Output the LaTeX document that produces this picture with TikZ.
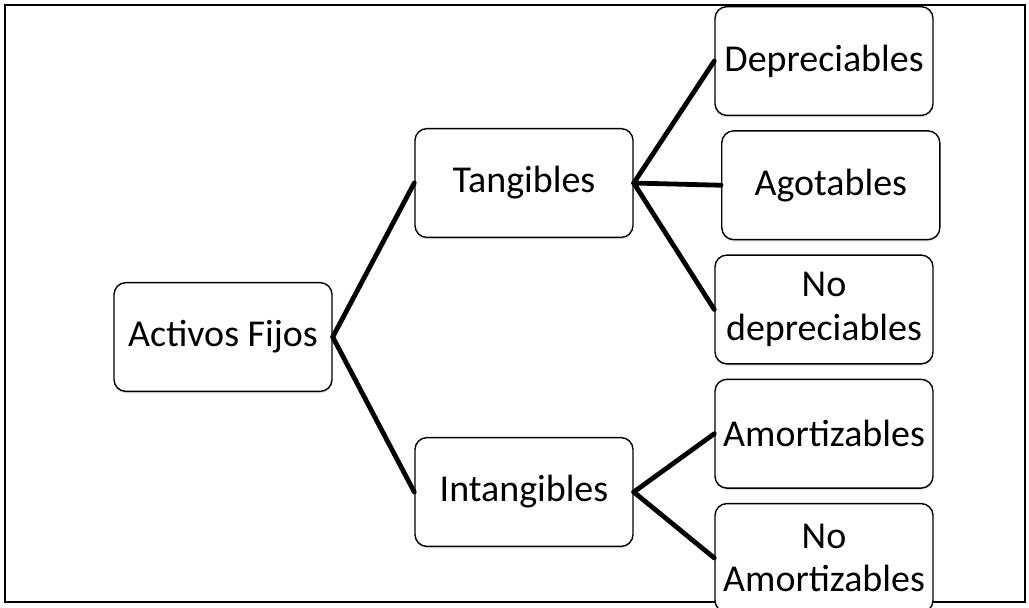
\documentclass[tikz,border=0pt]{standalone}
\usepackage{fontspec}
\setmainfont{Carlito}
\usepackage{tikz}
\usetikzlibrary{positioning}
\usetikzlibrary{shadows}

\begin{document}
\begin{tikzpicture}
[
	x = 0.025cm, y = -0.025cm,
	box/.style	= {rectangle, rounded corners = 0.3cm, draw = black, line width = 1pt, fill = white, minimum width = 5.45cm, minimum height = 2.72cm, inner sep = 0cm, align = center, font = \fontsize{27}{31}\selectfont, drop shadow = {opacity = 0.2, shadow xshift = 0pt, shadow yshift = -1.4pt}},
	frame/.style	= {draw = black, line width = 1pt},
	branch/.style	= {draw = black, line width = 3.4pt, line cap = round},
	node distance = 0.35cm and 2.1cm,
]

	\useasboundingbox (0,0) rectangle (1029,607);
	\draw [frame] (5,5) rectangle (1025,602);

	\node (root) [box] at (223,337) {Activos Fijos};
	%
	\node (tang) [box] at (524,183) {Tangibles};
	\node (intang) [box] at (524,492) {Intangibles};
	%
	\node (dep) [box] at (824,61) {Depreciables};
	\node (agot) [box, below = of dep, xshift = 0.17cm] {Agotables};
	\node (nodep) [box, below = of agot, xshift = -0.17cm] {No\\depreciables};
	\node (amort) [box, below = of nodep] {Amortizables};
	\node (noamort) [box, below = of amort] {No\\Amortizables};

	\draw [branch] (root.east) -- (tang.west);
	\draw [branch] (root.east) -- (intang.west);
	%
	\draw [branch] (tang.east) -- (dep.west);
	\draw [branch] (tang.east) -- (agot.west);
	\draw [branch] (tang.east) -- (nodep.west);
	%
	\draw [branch] (intang.east) -- (amort.west);
	\draw [branch] (intang.east) -- (noamort.west);

\end{tikzpicture}
\end{document}
